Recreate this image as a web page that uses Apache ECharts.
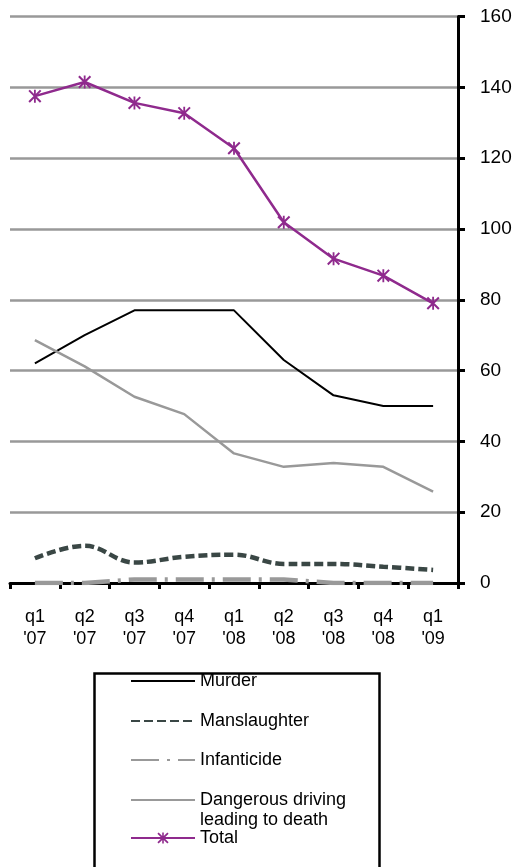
<!DOCTYPE html>
<html>
<head>
<meta charset="utf-8">
<script src="https://cdn.jsdelivr.net/npm/echarts@6/dist/echarts.min.js"></script>
<style>
html,body{margin:0;padding:0;background:#fff;}
#c{width:516px;height:867px;}
</style>
</head>
<body>
<div id="c"></div>
<script>
const categories = ["q1\n'07","q2\n'07","q3\n'07","q4\n'07","q1\n'08","q2\n'08","q3\n'08","q4\n'08","q1\n'09"];
const murder = [62, 70, 77, 77, 77, 63, 53, 50, 50];
const manslaughter = [7, 10.5, 5.8, 7.4, 8, 5.4, 5.4, 4.6, 3.7];
const infanticide = [0, 0, 1, 1, 1, 1, 0, 0, 0];
const dangerous = [68.6, 61.2, 52.6, 47.7, 36.6, 32.8, 33.9, 32.8, 25.8];
const total = [137.5, 141.5, 135.6, 132.7, 122.8, 101.9, 91.6, 86.8, 79];
const yTicks = {min: 0, max: 160, interval: 20};

const FONT = 'Liberation Sans, Arial, sans-serif';
const star = 'path://M4.3 0 L5.7 0 L5.7 10 L4.3 10 Z M0 1.1 L1.1 0 L10 8.9 L8.9 10 Z M8.9 0 L10 1.1 L1.1 10 L0 8.9 Z';

const chart = echarts.init(document.getElementById('c'), null, {renderer: 'canvas'});
const legendBase = {
  orient: 'horizontal', left: 130, itemWidth: 64, itemHeight: 14, itemGap: 6, padding: 0,
  selectedMode: false,
  textStyle: {fontFamily: FONT, fontSize: 18, color: '#000', lineHeight: 20}
};
const noSym = {itemStyle: {color: 'transparent', borderColor: 'transparent', borderWidth: 0}};
chart.setOption({
  animation: false,
  backgroundColor: '#fff',
  grid: {left: 10, right: 58, top: 16.5, bottom: 284, containLabel: false},
  xAxis: {
    type: 'category', data: categories, boundaryGap: true,
    axisLine: {lineStyle: {color: '#000', width: 3}},
    axisTick: {show: true, length: 6, lineStyle: {color: '#000', width: 3}},
    axisLabel: {color: '#000', fontFamily: FONT, fontSize: 18, lineHeight: 22, margin: 23, interval: 0}
  },
  yAxis: {
    type: 'value', position: 'right', min: yTicks.min, max: yTicks.max, interval: yTicks.interval,
    axisLine: {show: true, lineStyle: {color: '#000', width: 3}},
    axisTick: {show: true, length: 7, lineStyle: {color: '#000', width: 3}},
    axisLabel: {color: '#000', fontFamily: FONT, fontSize: 19, margin: 22},
    splitLine: {show: true, lineStyle: {color: '#999', width: 2.5}}
  },
  legend: [
    Object.assign({}, legendBase, noSym, {top: 671, data: ['Murder']}),
    Object.assign({}, legendBase, noSym, {top: 711, data: ['Manslaughter']}),
    Object.assign({}, legendBase, noSym, {top: 750, data: ['Infanticide']}),
    Object.assign({}, legendBase, noSym, {top: 770, data: ['Dangerous driving\nleading to death'],
      formatter: function (n) { return ' \n' + n; }}),
    Object.assign({}, legendBase, {top: 828, data: ['Total']})
  ],
  graphic: [{
    type: 'rect', left: 92, top: 671, z: 100,
    shape: {width: 285, height: 200},
    style: {fill: 'none', stroke: '#000', lineWidth: 2.5}
  }],
  series: [
    {name: 'Murder', type: 'line', data: murder, symbol: 'none',
     lineStyle: {color: '#000', width: 2}, itemStyle: {color: '#000'}, z: 3},
    {name: 'Manslaughter', type: 'line', data: manslaughter, symbol: 'none', smooth: 0.4,
     lineStyle: {color: '#3a4745', width: 4.5, type: [9, 4]}, itemStyle: {color: '#3a4745'}, z: 3},
    {name: 'Infanticide', type: 'line', data: infanticide, symbol: 'none',
     lineStyle: {color: '#999', width: 4.5, type: [28, 8, 3, 8]}, itemStyle: {color: '#999'}, z: 3},
    {name: 'Dangerous driving\nleading to death', type: 'line', data: dangerous, symbol: 'none',
     lineStyle: {color: '#999', width: 2.5}, itemStyle: {color: '#999'}, z: 3},
    {name: 'Total', type: 'line', data: total, symbol: star, symbolSize: 13, showSymbol: true,
     lineStyle: {color: '#8f2a8d', width: 2.5}, itemStyle: {color: '#8f2a8d'}, z: 4}
  ]
});
</script>
</body>
</html>
